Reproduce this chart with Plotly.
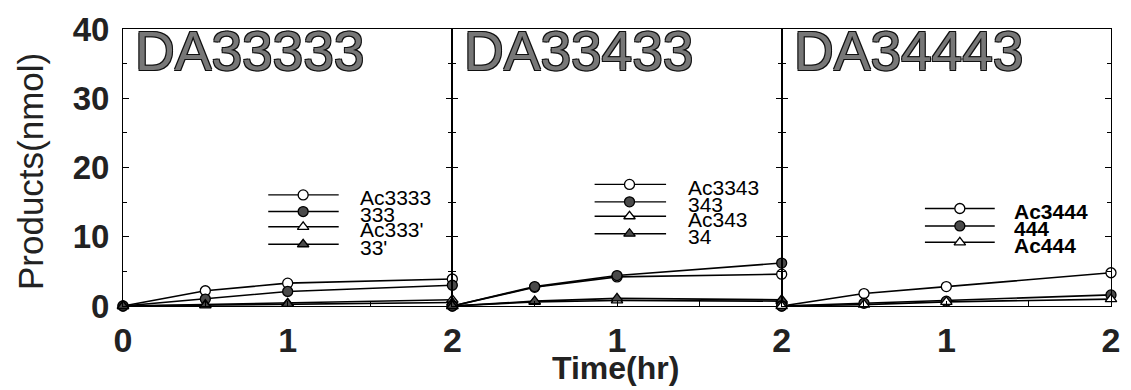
import plotly.graph_objects as go

# ---------------- data ----------------
time_hr = [0, 0.5, 1, 2]

panel_titles = ["DA33333", "DA33433", "DA34443"]

# Panel 1 (DA33333)
ac3333 = [0, 2.2, 3.3, 3.9]
p333 = [0, 1.0, 2.1, 3.0]
ac333p = [0, 0.2, 0.4, 0.9]
p33p = [0, 0.1, 0.3, 0.5]

# Panel 2 (DA33433)
ac3343 = [0, 2.7, 4.2, 4.6]
p343 = [0, 2.8, 4.4, 6.2]
ac343 = [0, 0.6, 0.8, 0.7]
p34 = [0, 0.7, 1.1, 0.9]

# Panel 3 (DA34443)
ac3444 = [0, 1.8, 2.8, 4.8]
p444 = [0, 0.4, 0.7, 1.6]
ac444 = [0, 0.2, 0.6, 1.0]

series_names = [
    ["Ac3333", "333", "Ac333'", "33'"],
    ["Ac3343", "343", "Ac343", "34"],
    ["Ac3444", "444", "Ac444"],
]
series_values = [
    [ac3333, p333, ac333p, p33p],
    [ac3343, p343, ac343, p34],
    [ac3444, p444, ac444],
]

y_ticks = [0, 10, 20, 30, 40]
x_tickvals = [0, 0.5, 1, 1.5, 2]
x_ticktext = [["0", "", "1", "", "2"], ["", "", "1", "", "2"], ["", "", "1", "", "2"]]

# ---------------- styles ----------------
FONT = "Liberation Sans, Arial, sans-serif"
DARK = "#4a4a4a"
marker_styles = [
    dict(symbol="circle", color="white"),
    dict(symbol="circle", color=DARK),
    dict(symbol="triangle-up", color="white"),
    dict(symbol="triangle-up", color=DARK),
]

# legend layout (fractions of each panel)
leg_x = [(0.441, 0.655, 0.547, 0.715), (0.432, 0.649, 0.538, 0.709), (0.435, 0.647, 0.541, 0.698)]
leg_y = [[0.401, 0.341, 0.286, 0.223], [0.439, 0.376, 0.324, 0.261], [0.352, 0.289, 0.230]]

domains = [[0, 1 / 3], [1 / 3, 2 / 3], [2 / 3, 1]]

fig = go.Figure()
layout = dict(
    width=1131, height=390,
    margin=dict(l=123, r=11, t=19, b=84),
    paper_bgcolor="white", plot_bgcolor="rgba(0,0,0,0)",
    showlegend=False,
    font=dict(family=FONT, color="black"),
)
annotations = []

for i in range(3):
    xa = "x" if i == 0 else f"x{i+1}"
    ya = "y" if i == 0 else f"y{i+1}"
    lxa = f"x{i+4}"
    lya = f"y{i+4}"
    # data traces
    for j, (name, vals) in enumerate(zip(series_names[i], series_values[i])):
        ms = marker_styles[j]
        fig.add_trace(go.Scatter(
            x=time_hr, y=vals, name=name, mode="lines+markers",
            xaxis=xa, yaxis=ya, cliponaxis=False,
            line=dict(color="black", width=1.6),
            marker=dict(symbol=ms["symbol"], size=10, color=ms["color"],
                        line=dict(color="black", width=1.3)),
        ))
    # legend samples (own hidden axes)
    x0, x1, xm, xt = leg_x[i]
    for j, name in enumerate(series_names[i]):
        ms = marker_styles[j]
        yy = leg_y[i][j]
        fig.add_trace(go.Scatter(
            x=[x0, x1], y=[yy, yy], mode="lines", xaxis=lxa, yaxis=lya,
            line=dict(color="black", width=1.4), hoverinfo="skip", cliponaxis=False,
        ))
        fig.add_trace(go.Scatter(
            x=[xm], y=[yy], mode="markers", xaxis=lxa, yaxis=lya, cliponaxis=False,
            marker=dict(symbol=ms["symbol"], size=10, color=ms["color"],
                        line=dict(color="black", width=1.3)),
            hoverinfo="skip",
        ))
        annotations.append(dict(
            x=xt, y=yy - 0.01, xref=lxa, yref=lya, text=name, showarrow=False,
            xanchor="left", yanchor="middle",
            font=dict(family=FONT, size=21, color="black", weight="bold" if i == 2 else "normal"),
        ))

    key = "xaxis" if i == 0 else f"xaxis{i+1}"
    ykey = "yaxis" if i == 0 else f"yaxis{i+1}"
    layout[key] = dict(
        domain=domains[i], range=[0, 2], anchor=ya,
        tickvals=x_tickvals, ticktext=x_ticktext[i],
        ticks="inside", ticklen=5, tickwidth=1.2, tickcolor="black",
        showline=True, linecolor="black", linewidth=1.2, mirror=True,
        showgrid=False, zeroline=False,
        tickfont=dict(family=FONT, size=34, color="#222", weight="bold"),
        ticklabelstandoff=4,
    )
    layout[ykey] = dict(
        domain=[0, 1], range=[0, 40], anchor=xa,
        tickvals=y_ticks, showticklabels=(i == 0),
        ticks="inside", ticklen=6, tickwidth=1.2, tickcolor="black",
        minor=dict(dtick=5, ticks="inside", ticklen=4, tickcolor="black"),
        showline=True, linecolor="black", linewidth=1.0, mirror="ticks",
        showgrid=False, zeroline=False,
        tickfont=dict(family=FONT, size=33, color="#222", weight="bold"),
        ticklabelstandoff=6,
    )
    if i > 0:
        layout[ykey]["matches"] = "y"
    layout[f"xaxis{i+4}"] = dict(domain=domains[i], range=[0, 1], anchor=lya, visible=False, fixedrange=True)
    layout[f"yaxis{i+4}"] = dict(domain=[0, 1], range=[0, 1], anchor=lxa, visible=False, fixedrange=True)

    # panel title
    annotations.append(dict(
        x=0.03, y=1.0, xref=f"{xa} domain", yref=f"{ya} domain", text=panel_titles[i],
        showarrow=False, xanchor="left", yanchor="top", yshift=11,
        font=dict(family=FONT, size=55, color="#777",
                  shadow="-1px -1px 0 #111, 1px -1px 0 #111, -1px 1px 0 #111, 1px 1px 0 #111"),
    ))

annotations.append(dict(
    x=-0.093, y=0.484, xref="paper", yref="paper", text="Products(nmol)", showarrow=False,
    textangle=-90, xanchor="center", yanchor="middle",
    font=dict(family=FONT, size=35, color="#222"),
))
annotations.append(dict(
    x=0.4985, y=-0.223, xref="paper", yref="paper", text="Time(hr)", showarrow=False,
    xanchor="center", yanchor="middle",
    font=dict(family=FONT, size=32, color="#222", weight="bold"),
))
layout["annotations"] = annotations
fig.update_layout(**layout)
fig.write_html("out.html")
